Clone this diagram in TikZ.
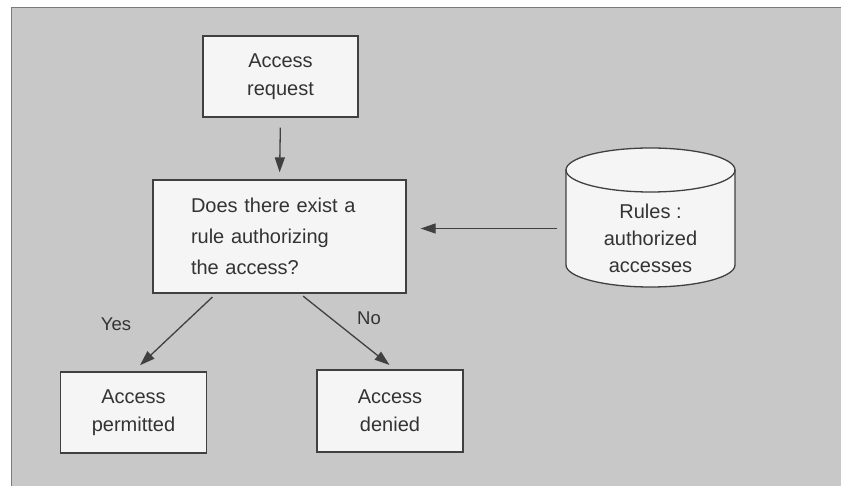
\documentclass[tikz,border=0pt]{standalone}
\usepackage{fontspec}
\setmainfont{Liberation Sans}
\usetikzlibrary{arrows.meta,calc}
\definecolor{bggray}{HTML}{C8C8C8}
\definecolor{boxfill}{HTML}{F5F5F5}
\definecolor{linegray}{HTML}{404040}
\definecolor{textgray}{HTML}{333333}
\definecolor{framegray}{HTML}{7A7A7A}
\tikzset{
  box/.style={draw=linegray, line width=1.3pt, fill=boxfill, text=textgray,
    align=center, font=\fontsize{20}{28}\selectfont, inner sep=0pt},
  arr/.style={draw=linegray, line width=1.3pt, -{Triangle[length=15pt,width=10pt]}},
  lbl/.style={text=textgray, font=\fontsize{18.5}{22}\selectfont, inner sep=0pt}
}
\begin{document}
\begin{tikzpicture}[x=1pt,y=1pt]
\useasboundingbox (0,0) rectangle (841,-486);
\fill[white] (0,0) rectangle (841,-486);
\fill[bggray] (11,-8) rectangle (841,-486);
\draw[framegray, line width=1pt] (11,-486) -- (11,-8) -- (841,-8);

\node[box, minimum width=155pt, minimum height=81pt] (req) at (280.5,-76.5) {Access\\request};
\node[box, minimum width=253pt, minimum height=113pt, align=left, text width=177pt,
      inner xsep=38pt, font=\fontsize{20}{31}\selectfont] (q) at (279.5,-236.5)
      {Does there exist a\\rule authorizing\\the access?};
\node[box, minimum width=146pt, minimum height=81pt] (perm) at (133.5,-412.5) {Access\\permitted};
\node[box, minimum width=146pt, minimum height=82pt] (den) at (390,-411) {Access\\denied};

% cylinder
\filldraw[fill=boxfill, draw=linegray, line width=1.3pt]
  (566,-170) -- (566,-265) arc[start angle=180, end angle=360, x radius=84.5, y radius=22]
  -- (735,-170) arc[start angle=0, end angle=180, x radius=84.5, y radius=22] -- cycle;
\draw[linegray, line width=1.3pt] (566,-170) arc[start angle=180, end angle=360, x radius=84.5, y radius=22];
\node[minimum width=169pt, minimum height=117pt, inner sep=0pt] (rules) at (650.5,-228.5) {};
\node[text=textgray, align=center, font=\fontsize{20}{27}\selectfont, inner sep=0pt]
  (rulestext) at ([yshift=-10pt]rules.center) {Rules :\\authorized\\accesses};

\draw[arr, shorten <=10pt, shorten >=7pt] (req.south) -- (q.north);
\draw[arr, shorten <=9pt, shorten >=14pt] (rules.west) -- (rules.west -| q.east);
\draw[arr, shorten <=5pt, shorten >=9pt] ([xshift=-63.5pt]q.south) -- (perm.north);
\draw[arr, shorten <=4pt, shorten >=7pt] ([xshift=20.5pt]q.south) -- ([xshift=5pt]den.north);

\node[lbl] (yes) at (116,-324) {Yes};
\node[lbl] (no) at (369,-318) {No};
\end{tikzpicture}
\end{document}
